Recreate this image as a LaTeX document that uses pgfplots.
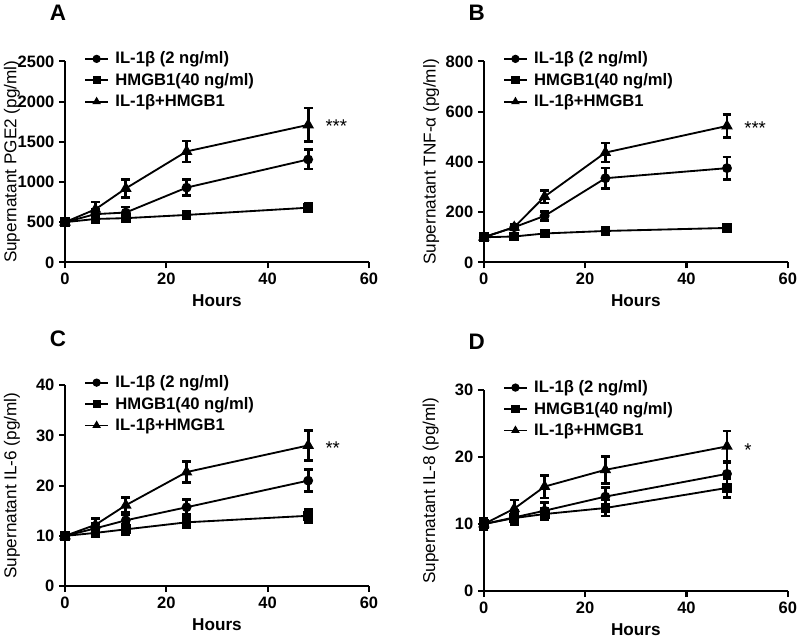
\documentclass[border=0pt]{standalone}
\usepackage{fontspec}
\setmainfont{Liberation Sans}
\usepackage{pgfplots}
\pgfplotsset{compat=1.18}
\begin{document}
\begin{tikzpicture}
\useasboundingbox (-2pt,-4pt) rectangle (604pt,480.75pt);
\pgfplotsset{
 panel/.style={scale only axis, width=230.25pt, height=152.25pt,
  axis lines=left, axis line style={line width=1.6pt,-},
  xmin=0, xmax=60, ymin=0, xtick={0,20,40,60},
  tick style={line width=1.6pt, black}, tick align=outside, major tick length=4.5pt,
  tick label style={font=\bfseries\fontsize{12.5}{14}\selectfont},
  /pgf/number format/assume math mode=true, /pgf/number format/1000 sep={},
  xlabel={Hours}, xlabel style={font=\bfseries\fontsize{13}{16}\selectfont, yshift=-1pt},
  ylabel style={font=\fontsize{13}{15}\selectfont, at={(axis description cs:-0.175,0.5)}, anchor=center},
  legend style={at={(0.05,1.075)}, anchor=north west, draw=none, fill=none,
    font=\bfseries\fontsize{12.6}{14}\selectfont, row sep=1.6pt},
  legend image code/.code={\draw[mark repeat=2,mark phase=2,mark size=2.4pt] plot coordinates {(0cm,0cm) (0.3cm,0cm) (0.6cm,0cm)};},
  legend cell align=left, clip=false,
  every axis plot/.append style={black, line width=1.4pt,
    error bars/y dir=both, error bars/y explicit,
    error bars/error bar style={line width=2pt, black},
    error bars/error mark options={rotate=90, mark size=3.3pt, line width=2pt, black}},
 },
 s1/.style={mark=*, mark size=3pt},
 s2/.style={mark=square*, mark size=3pt},
 s3/.style={mark=triangle*, mark size=3.7pt},
}
% Panel A
\begin{axis}[panel, at={(47.25pt,282pt)}, anchor=south west, ymax=2500, ytick={0,500,1000,1500,2000,2500},
  ylabel={Supernatant PGE2 (pg/ml)}]
\addplot[s1] table[y error index=2] {
0 500 30
6 600 60
12 620 70
24 930 100
48 1280 120
};
\addplot[s2] table[y error index=2] {
0 500 40
6 540 40
12 550 40
24 590 40
48 680 50
};
\addplot[s3] table[y error index=2] {
0 500 30
6 660 90
12 920 110
24 1380 130
48 1710 210
};
\legend{\hspace{3pt}IL-1β (2 ng/ml), \hspace{3pt}HMGB1(40 ng/ml), \hspace{3pt}IL-1β+HMGB1}
\node[anchor=west, font=\fontsize{14}{15}\selectfont] at (axis cs:50.5,1690) {***};
\node[font=\bfseries\fontsize{17}{20}\selectfont] at (rel axis cs:-0.023,1.24) {A};
\end{axis}
% Panel B
\begin{axis}[panel, at={(364.5pt,282pt)}, anchor=south west, ymax=800, ytick={0,200,400,600,800},
  ylabel={Supernatant TNF-α (pg/ml)}, ylabel style={at={(axis description cs:-0.173,0.5)}}]
\addplot[s1] table[y error index=2] {
0 100 8
6 140 8
12 185 18
24 335 40
48 375 45
};
\addplot[s2] table[y error index=2] {
0 100 8
6 103 8
12 115 8
24 125 8
48 137 8
};
\addplot[s3] table[y error index=2] {
0 100 8
6 140 10
12 262 25
24 437 38
48 543 45
};
\legend{\hspace{3pt}IL-1β (2 ng/ml), \hspace{3pt}HMGB1(40 ng/ml), \hspace{3pt}IL-1β+HMGB1}
\node[anchor=west, font=\fontsize{14}{15}\selectfont] at (axis cs:50.5,535) {***};
\node[font=\bfseries\fontsize{17}{20}\selectfont] at (rel axis cs:-0.023,1.24) {B};
\end{axis}
% Panel C
\begin{axis}[panel, at={(47.25pt,36.75pt)}, anchor=south west, ymax=40, ytick={0,10,20,30,40},
  ylabel={Supernatant IL-6 (pg/ml)}]
\addplot[s1] table[y error index=2] {
0 10 0.8
6 11.5 1.0
12 13.1 1.2
24 15.7 1.5
48 21 2.2
};
\addplot[s2] table[y error index=2] {
0 10 0.8
6 10.6 0.8
12 11.3 1.0
24 12.7 1.0
48 14 1.3
};
\addplot[s3] table[y error index=2] {
0 10 0.8
6 12.2 1.2
12 16.1 1.5
24 22.7 2.1
48 28 3
};
\legend{\hspace{3pt}IL-1β (2 ng/ml), \hspace{3pt}HMGB1(40 ng/ml), \hspace{3pt}IL-1β+HMGB1}
\node[anchor=west, font=\fontsize{14}{15}\selectfont] at (axis cs:50.5,27.4) {**};
\node[font=\bfseries\fontsize{17}{20}\selectfont] at (rel axis cs:-0.023,1.23) {C};
\end{axis}
% Panel D
\begin{axis}[panel, at={(364.5pt,33pt)}, anchor=south west, ymax=30, ytick={0,10,20,30},
  ylabel={Supernatant IL-8 (pg/ml)}]
\addplot[s1] table[y error index=2] {
0 10 0.9
6 11.0 1.0
12 12.0 1.2
24 14.1 1.4
48 17.5 1.7
};
\addplot[s2] table[y error index=2] {
0 10 0.9
6 10.9 1.0
12 11.5 0.8
24 12.4 1.2
48 15.4 1.4
};
\addplot[s3] table[y error index=2] {
0 10 0.9
6 12.3 1.3
12 15.6 1.7
24 18.1 2.0
48 21.6 2.3
};
\legend{\hspace{3pt}IL-1β (2 ng/ml), \hspace{3pt}HMGB1(40 ng/ml), \hspace{3pt}IL-1β+HMGB1}
\node[anchor=west, font=\fontsize{14}{15}\selectfont] at (axis cs:50.5,21.0) {*};
\node[font=\bfseries\fontsize{17}{20}\selectfont] at (rel axis cs:-0.023,1.24) {D};
\end{axis}
\end{tikzpicture}
\end{document}
